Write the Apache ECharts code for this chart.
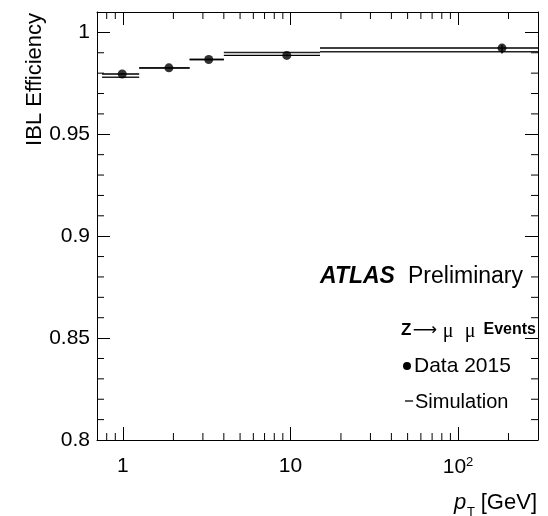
<!DOCTYPE html>
<html>
<head>
<meta charset="utf-8">
<script src="https://cdn.jsdelivr.net/npm/echarts@6/dist/echarts.min.js"></script>
<style>
html, body { margin: 0; background: #fff; }
#chart { width: 548px; height: 516px; }
</style>
</head>
<body>
<div id="chart"></div>
<script>
// pT bins [GeV]
var binLow = [0.75, 1.25, 2.5, 4, 15];
var binHigh = [1.25, 2.5, 4, 15, 300];
// data 2015
var dataPt = [0.99, 1.88, 3.25, 9.5, 183];
var dataEff = [0.9796, 0.9826, 0.9867, 0.9887, 0.9923];
var dataErrDown = [0.0004, 0.0003, 0.0003, 0.0004, 0.0027];
var dataErrUp = [0.0004, 0.0003, 0.0003, 0.0004, 0.0015];
// simulation
var simEff = [0.9780, 0.9825, 0.9867, 0.9901, 0.9905];

// minor tick positions
var xMinorTicks = [0.8, 0.9, 2, 3, 4, 5, 6, 7, 8, 9, 20, 30, 40, 50, 60, 70, 80, 90, 200];
var yMinorTicks = [0.81, 0.82, 0.83, 0.84, 0.86, 0.87, 0.88, 0.89, 0.91, 0.92, 0.93, 0.94, 0.96, 0.97, 0.98, 0.99];

var xMin = 0.7, xMax = 300;
var yMin = 0.8, yMax = 1.01;
var FONT = "'Liberation Sans', Arial, Helvetica, sans-serif";
var SERIF = "'Liberation Serif', 'DejaVu Serif', serif";

function xLabel(v) {
    var l = Math.log10(v);
    var e = Math.round(l);
    if (Math.abs(l - e) > 1e-6) return '';
    if (e === 0) return '1';
    if (e === 1) return '10';
    return '{n|10}{s|' + e + '}';
}

function hline(x1, x2, y, w, c) {
    return { type: 'line', shape: { x1: x1, y1: y, x2: x2, y2: y }, style: { stroke: c, lineWidth: w } };
}
function vline(x, y1, y2, w, c) {
    return { type: 'line', shape: { x1: x, y1: y1, x2: x, y2: y2 }, style: { stroke: c, lineWidth: w } };
}
function label(text, x, y, font, align) {
    return { type: 'text', x: x, y: y, style: { text: text, font: font, fill: '#000', align: align || 'left', verticalAlign: 'middle' } };
}

var axisCommon = {
    axisLine: { show: true, lineStyle: { color: '#000', width: 1 } },
    axisTick: { show: true, inside: true, length: 13, lineStyle: { color: '#000', width: 1 } },
    splitLine: { show: false }
};

var myChart = echarts.init(document.getElementById('chart'));

myChart.setOption({
    animation: false,
    grid: { left: 97, right: 10, top: 12, bottom: 76 },
    xAxis: [
        Object.assign({
            type: 'log', logBase: 10, min: xMin, max: xMax, position: 'bottom',
            axisLabel: {
                formatter: xLabel, color: '#000', fontSize: 21, fontFamily: FONT, margin: 16,
                rich: {
                    n: { fontSize: 21, fontFamily: FONT, color: '#000' },
                    s: { fontSize: 13, fontFamily: FONT, color: '#000', verticalAlign: 'top', padding: [0, 0, 10, 0] }
                }
            }
        }, axisCommon),
        Object.assign({
            type: 'log', logBase: 10, min: xMin, max: xMax, position: 'top',
            axisLabel: { show: false }
        }, axisCommon)
    ],
    yAxis: [
        Object.assign({
            type: 'value', min: yMin, max: yMax, interval: 0.05, position: 'left',
            axisLabel: { color: '#000', fontSize: 21, fontFamily: FONT, margin: 7, showMaxLabel: false }
        }, axisCommon),
        Object.assign({
            type: 'value', min: yMin, max: yMax, interval: 0.05, position: 'right',
            axisLabel: { show: false }
        }, axisCommon)
    ],
    series: [
        {
            // x minor ticks, bottom and top
            type: 'custom', xAxisIndex: 0, yAxisIndex: 0, silent: true,
            data: xMinorTicks.map(function (v) { return [v, yMin]; }),
            renderItem: function (params, api) {
                var v = api.value(0);
                var b = api.coord([v, yMin]);
                var t = api.coord([v, yMax]);
                return { type: 'group', children: [
                    vline(b[0], b[1], b[1] - 7, 1, '#000'),
                    vline(t[0], t[1], t[1] + 7, 1, '#000')
                ] };
            }
        },
        {
            // y minor ticks, left and right
            type: 'custom', xAxisIndex: 0, yAxisIndex: 0, silent: true,
            data: yMinorTicks.map(function (v) { return [xMin, v]; }),
            renderItem: function (params, api) {
                var v = api.value(1);
                var l = api.coord([xMin, v]);
                var r = api.coord([xMax, v]);
                return { type: 'group', children: [
                    hline(l[0], l[0] + 7, l[1], 1, '#000'),
                    hline(r[0], r[0] - 7, r[1], 1, '#000')
                ] };
            }
        },
        {
            name: 'Simulation',
            type: 'custom', xAxisIndex: 0, yAxisIndex: 0,
            encode: { x: [0, 2], y: 1 },
            data: binLow.map(function (lo, i) { return [lo, simEff[i], binHigh[i]]; }),
            renderItem: function (params, api) {
                var a = api.coord([api.value(0), api.value(1)]);
                var b = api.coord([api.value(2), api.value(1)]);
                return hline(a[0], b[0], a[1], 1.4, '#222');
            }
        },
        {
            name: 'Data 2015 errors',
            type: 'custom', xAxisIndex: 0, yAxisIndex: 0,
            encode: { x: [0, 2, 3], y: [1, 4, 5] },
            data: binLow.map(function (lo, i) {
                return [lo, dataEff[i], binHigh[i], dataPt[i], dataEff[i] - dataErrDown[i], dataEff[i] + dataErrUp[i]];
            }),
            renderItem: function (params, api) {
                var a = api.coord([api.value(0), api.value(1)]);
                var b = api.coord([api.value(2), api.value(1)]);
                var lo = api.coord([api.value(3), api.value(4)]);
                var hi = api.coord([api.value(3), api.value(5)]);
                return { type: 'group', children: [
                    hline(a[0], b[0], a[1], 1.4, '#000'),
                    vline(lo[0], lo[1], hi[1], 1.4, '#000')
                ] };
            }
        },
        {
            name: 'Data 2015',
            type: 'scatter', xAxisIndex: 0, yAxisIndex: 0,
            symbol: 'circle', symbolSize: 9,
            itemStyle: { color: '#000' },
            z: 5,
            data: dataPt.map(function (p, i) { return [p, dataEff[i]]; })
        }
    ],
    graphic: [
        {
            type: 'text', x: 35, y: 13, rotation: Math.PI / 2,
            style: { text: 'IBL Efficiency', font: '22px ' + FONT, fill: '#000', align: 'right', verticalAlign: 'middle' }
        },
        // x axis title
        label('p', 454, 503, 'italic 22px ' + FONT),
        label('T', 467, 512, '13px ' + FONT),
        label('[GeV]', 537, 503, '22px ' + FONT, 'right'),
        // ATLAS label
        label('ATLAS', 320, 277, 'italic bold 23px ' + FONT),
        label('Preliminary', 408, 277, '23px ' + FONT),
        // Z -> mu mu Events
        label('Z', 401, 330, 'bold 17px ' + FONT),
        label('⟶', 425, 331, "17px 'DejaVu Sans', sans-serif", 'center'),
        label('μ', 448, 332, '20px ' + SERIF, 'center'),
        label('μ', 470, 332, '20px ' + SERIF, 'center'),
        label('Events', 536, 330, 'bold 16px ' + FONT, 'right'),
        // legend
        { type: 'circle', shape: { cx: 407, cy: 366, r: 4 }, style: { fill: '#000' } },
        label('Data 2015', 414, 366, '21px ' + FONT),
        { type: 'line', shape: { x1: 405, y1: 401, x2: 413, y2: 401 }, style: { stroke: '#000', lineWidth: 1.3 } },
        label('Simulation', 415, 402, '20px ' + FONT)
    ]
});
</script>
</body>
</html>
